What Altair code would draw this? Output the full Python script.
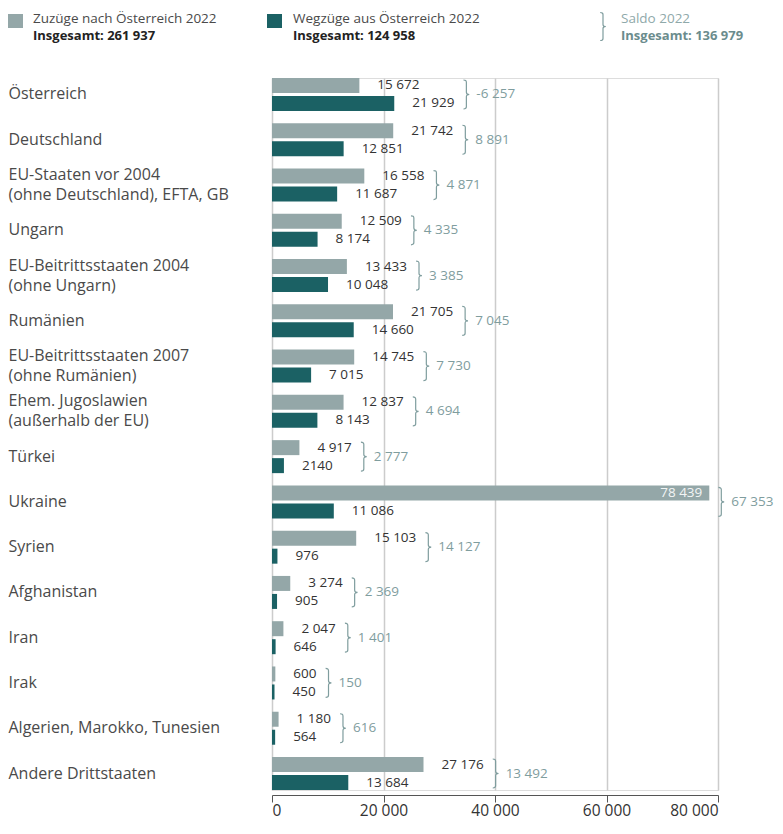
import altair as alt
import pandas as pd

categories = [
    "Österreich", "Deutschland", "EU-Staaten vor 2004\n(ohne Deutschland), EFTA, GB",
    "Ungarn", "EU-Beitrittsstaaten 2004\n(ohne Ungarn)", "Rumänien",
    "EU-Beitrittsstaaten 2007\n(ohne Rumänien)", "Ehem. Jugoslawien\n(außerhalb der EU)",
    "Türkei", "Ukraine", "Syrien", "Afghanistan", "Iran", "Irak",
    "Algerien, Marokko, Tunesien", "Andere Drittstaaten",
]
zuzuege = [15672, 21742, 16558, 12509, 13433, 21705, 14745, 12837, 4917, 78439,
           15103, 3274, 2047, 600, 1180, 27176]
wegzuege = [21929, 12851, 11687, 8174, 10048, 14660, 7015, 8143, 2140, 11086,
            976, 905, 646, 450, 564, 13684]
saldo = [-6257, 8891, 4871, 4335, 3385, 7045, 7730, 4694, 2777, 67353,
         14127, 2369, 1401, 150, 616, 13492]
series = ["Zuzüge nach Österreich 2022", "Wegzüge aus Österreich 2022"]
totals = ["Insgesamt: 261 937", "Insgesamt: 124 958", "Insgesamt: 136 979"]
x_ticks = [0, 20000, 40000, 60000, 80000]

FONT = "Open Sans"
C_Z = "#94a7a8"
C_W = "#1b6164"
C_SALDO = "#7f9d9e"
W, H = 446, 712
XMAX = 80000
PPU = W / XMAX
VAL_FS = 13.5


def fmt(v):
    s = f"{abs(v):,}".replace(",", " ")
    if v == 2140:
        s = "2140"
    return ("-" if v < 0 else "") + s


def text_w(s, fs=VAL_FS):
    w = 0
    for ch in s:
        w += 0.26 if ch == " " else (0.32 if ch == "-" else 0.572)
    return w * fs


rows = []
brace = []
for c, z, w, s in zip(categories, zuzuege, wegzuege, saldo):
    zl, wl = fmt(z), fmt(w)
    z_inside = z * PPU + 18 + text_w(zl) > W
    ends = []
    for name, v, lab, inside in ((series[0], z, zl, z_inside), (series[1], w, wl, False)):
        rows.append(dict(cat=c, series=name, value=v, label=lab, inside=inside))
        ends.append(v * PPU if inside else v * PPU + 18 + text_w(lab))
    le = max(ends)
    brace.append(dict(cat=c, bx=(le + 12) / PPU, sx=(le + 22) / PPU, saldo=fmt(s)))

df = pd.DataFrame(rows)
bdf = pd.DataFrame(brace)

y_enc = alt.Y("cat:N", sort=categories, title=None,
              scale=alt.Scale(paddingInner=0.271, paddingOuter=0),
              axis=alt.Axis(labelExpr="split(datum.label, '\\n')", labelAlign="left",
                            labelPadding=264, ticks=False, tickSize=0, domain=False,
                            labelFont=FONT, labelFontSize=16, labelColor="#4a4a4a",
                            labelLineHeight=20, labelBaseline="middle", grid=False,
                            labelLimit=0,
                            labelOffset={"condition": {"test": "indexof(datum.value, '\\n') >= 0",
                                                       "value": -10}, "value": 0}))
yoff = alt.YOffset("series:N", sort=series, scale=alt.Scale(paddingInner=0.1667, paddingOuter=0))
x_scale = alt.Scale(domain=[0, XMAX], nice=False)

bars = alt.Chart(df).mark_bar().encode(
    x=alt.X("value:Q", scale=x_scale, title=None,
            axis=alt.Axis(values=x_ticks, labelExpr="replace(format(datum.value, ','), ',', ' ')",
                          offset=5, tickSize=7, tickColor="#555", domainColor="#555",
                          labelFont=FONT, labelFontSize=15.5, labelColor="#333", labelPadding=1,
                          grid=True, gridColor="#cccccc", gridWidth=1.5)),
    y=y_enc, yOffset=yoff,
    color=alt.Color("series:N", sort=series, scale=alt.Scale(domain=series, range=[C_Z, C_W]),
                    legend=None),
)

labels_out = alt.Chart(df).transform_filter("!datum.inside").mark_text(
    align="left", baseline="middle", dx=18, font=FONT, fontSize=VAL_FS, color="#333"
).encode(x=alt.X("value:Q", scale=x_scale), y=alt.Y("cat:N", sort=categories), yOffset=yoff,
         text="label:N")

labels_in = alt.Chart(df).transform_filter("datum.inside").mark_text(
    align="right", baseline="middle", dx=-7, font=FONT, fontSize=VAL_FS, color="#f2f5f5"
).encode(x=alt.X("value:Q", scale=x_scale), y=alt.Y("cat:N", sort=categories), yOffset=yoff,
         text="label:N")

BRACE = "M -0.2 -1 Q 0 -1 0 -0.85 L 0 -0.15 Q 0 0 0.2 0 Q 0 0 0 0.15 L 0 0.85 Q 0 1 -0.2 1"

braces = alt.Chart(bdf).mark_point(
    shape=BRACE, filled=False, size=841, stroke=C_SALDO, strokeWidth=1.2, opacity=1
).encode(x=alt.X("bx:Q", scale=x_scale), y=alt.Y("cat:N", sort=categories))

saldo_txt = alt.Chart(bdf).mark_text(
    align="left", baseline="middle", font=FONT, fontSize=VAL_FS, color=C_SALDO
).encode(x=alt.X("sx:Q", scale=x_scale), y=alt.Y("cat:N", sort=categories), text="saldo:N")

# legend (layout in pixels relative to the plot area)
leg = pd.DataFrame({"i": [0]})
leg_marks = []
for x0, col in ((-264, C_Z), (-5, C_W)):
    leg_marks.append(alt.Chart(leg).mark_rect(color=col).encode(
        x=alt.value(x0), x2=alt.value(x0 + 15), y=alt.value(-64), y2=alt.value(-50)))
for x0, t1, t2 in ((-239, series[0], totals[0]), (21, series[1], totals[1])):
    leg_marks.append(alt.Chart(leg).mark_text(
        align="left", baseline="middle", font=FONT, fontSize=13.5, color="#4a4a4a").encode(
        x=alt.value(x0), y=alt.value(-59), text=alt.value(t1)))
    leg_marks.append(alt.Chart(leg).mark_text(
        align="left", baseline="middle", font=FONT, fontSize=13, fontWeight="bold",
        color="#222").encode(x=alt.value(x0), y=alt.value(-42), text=alt.value(t2)))
leg_marks.append(alt.Chart(leg).mark_point(
    shape=BRACE, filled=False, size=784, stroke=C_SALDO, strokeWidth=1.2, opacity=1).encode(
    x=alt.value(331), y=alt.value(-51.5)))
leg_marks.append(alt.Chart(leg).mark_text(
    align="left", baseline="middle", font=FONT, fontSize=13.5, color="#8fa9aa").encode(
    x=alt.value(349), y=alt.value(-59), text=alt.value("Saldo 2022")))
leg_marks.append(alt.Chart(leg).mark_text(
    align="left", baseline="middle", font=FONT, fontSize=13, fontWeight="bold",
    color="#6b8c8d").encode(x=alt.value(349), y=alt.value(-42), text=alt.value(totals[2])))

chart = alt.layer(bars, labels_out, labels_in, braces, saldo_txt, *leg_marks).properties(
    width=W, height=H,
    autosize=alt.AutoSizeParams(type="none"),
    padding={"left": 264, "top": 70, "right": 57, "bottom": 34},
).configure_view(stroke=None).configure(background="white")

chart.save("out.html", embed_options={"renderer": "svg", "actions": False})
